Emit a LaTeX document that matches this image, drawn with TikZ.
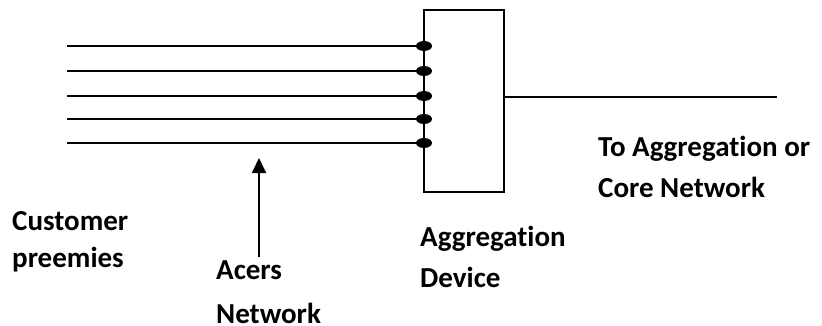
\documentclass[tikz,border=0pt]{standalone}
\usepackage{fontspec}
\setmainfont{Carlito}[Ligatures={NoCommon}]
\usetikzlibrary{shapes.geometric,arrows.meta}
\tikzset{
  wire/.style={line width=1.8pt},
  port/.style={ellipse,fill=black,inner sep=0pt,minimum width=16pt,minimum height=10pt},
  device/.style={draw,line width=1.8pt,minimum width=80pt,minimum height=182pt,inner sep=0pt},
  lbl/.style={anchor=base west,inner sep=0pt,font=\fontsize{29}{35}\selectfont\bfseries},
}
\begin{document}
\begin{tikzpicture}[x=1pt,y=-1pt]
\useasboundingbox (0,0) rectangle (822,326);

% aggregation box
\node[device] (agg) at (464,101) {};

% customer lines ending in ports on the box edge
\foreach \i/\y in {1/46,2/71,3/96,4/119,5/143}{
  \coordinate (c\i) at (67,\y);
  \node[port] (p\i) at (424,\y) {};
  \draw[wire] (c\i) -- (p\i.center);
}

% uplink
\coordinate (up) at (777,97);
\draw[wire] (agg.east |- up) -- (up);

% pointer to the access lines
\coordinate (ab) at (259,257);
\coordinate (at) at (259,158);
\draw[wire,-{Triangle[length=15pt,width=14pt]}] (ab) -- (at);

% labels
\node[lbl] (cust1) at (12,230) {Customer};
\node[lbl] (cust2) at (12,267) {preemies};
\node[lbl] (acc1) at (216,279) {Acers};
\node[lbl] (acc2) at (216,323) {Network};
\node[lbl] (dev1) at (420,246) {Aggregation};
\node[lbl] (dev2) at (420,287) {Device};
\node[lbl] (core1) at (598,157) {To Aggregation or};
\node[lbl] (core2) at (598,197) {Core Network};
\end{tikzpicture}
\end{document}
